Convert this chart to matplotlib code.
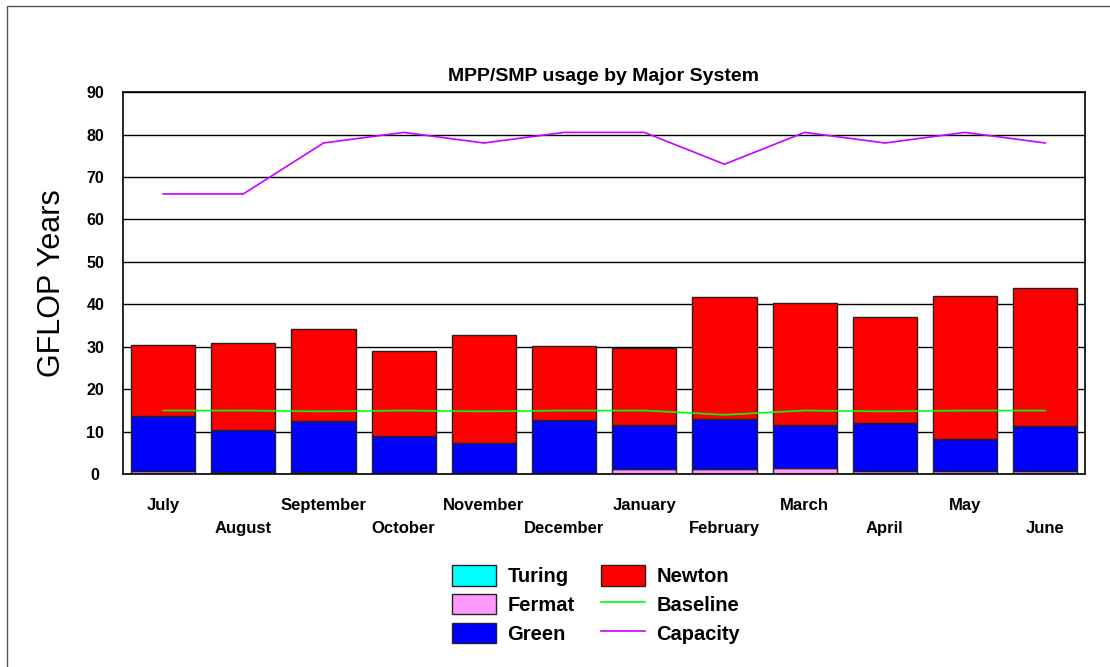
import numpy as np
import matplotlib.pyplot as plt
from matplotlib.patches import Rectangle
from matplotlib.lines import Line2D

plt.rcParams['font.family'] = ['Liberation Sans', 'DejaVu Sans']

# monthly usage, GFLOP years
months = ["July", "August", "September", "October", "November", "December",
          "January", "February", "March", "April", "May", "June"]
turing = [0.1, 0.1, 0.1, 0.1, 0.1, 0.1, 0.1, 0.1, 0.1, 0.1, 0.1, 0.1]
fermat = [0.7, 0.5, 0.4, 0.2, 0.1, 0.1, 1.1, 1.1, 1.4, 0.7, 0.7, 0.7]
green = [13.0, 9.8, 12.1, 8.8, 7.2, 12.5, 10.5, 11.9, 10.2, 11.2, 7.5, 10.5]
newton = [16.7, 20.4, 21.6, 19.9, 25.4, 17.6, 18.1, 28.6, 28.6, 25.1, 33.7, 32.6]
baseline = [15.0, 15.0, 14.8, 15.0, 14.8, 15.0, 15.0, 14.0, 15.0, 14.8, 15.0, 15.0]
capacity = [66.0, 66.0, 78.0, 80.5, 78.0, 80.5, 80.5, 73.0, 80.5, 78.0, 80.5, 78.0]

C_TURING = "#00ffff"
C_FERMAT = "#ff99ff"
C_GREEN = "#0000ff"
C_NEWTON = "#ff0000"
C_BASE = "#00ff00"
C_CAP = "#cc00ff"

fig = plt.figure(figsize=(11.1, 6.67), dpi=100)
ax = fig.add_axes([0.1108, 0.289, 0.8670, 0.573])

# outer frame (only top/left edges fall inside the canvas)
fig.patches.append(Rectangle((7 / 1110, -0.1), 1.2, 1.1 - 6 / 667,
                             transform=fig.transFigure, fill=False,
                             edgecolor="#555555", linewidth=1.0))

x = np.arange(len(months))
w = 0.8
ec = dict(edgecolor="#222222", linewidth=1.0)
b0 = np.zeros(len(months))
ax.bar(x, turing, w, bottom=b0, color=C_TURING, **ec, zorder=2)
b1 = b0 + np.array(turing)
ax.bar(x, fermat, w, bottom=b1, color=C_FERMAT, **ec, zorder=2)
b2 = b1 + np.array(fermat)
ax.bar(x, green, w, bottom=b2, color=C_GREEN, **ec, zorder=2)
b3 = b2 + np.array(green)
ax.bar(x, newton, w, bottom=b3, color=C_NEWTON, **ec, zorder=2)

ax.plot(x, baseline, color=C_BASE, linewidth=1.2, zorder=3)
ax.plot(x, capacity, color=C_CAP, linewidth=1.2, zorder=3)

ax.set_xlim(-0.5, len(months) - 0.5)
ax.set_ylim(0, 90)
ax.set_yticks(np.arange(0, 91, 10))
ax.yaxis.grid(True, color="black", linewidth=1.0, zorder=0)
ax.set_axisbelow(True)
for s in ax.spines.values():
    s.set_linewidth(1.2)
ax.tick_params(axis="y", direction="in", length=0, pad=20, labelsize=11.5)
for t in ax.get_yticklabels():
    t.set_fontweight("bold")
    t.set_horizontalalignment("center")

# staggered month labels
ax.set_xticks(x)
ax.set_xticklabels([])
ax.tick_params(axis="x", length=0)
for i, m in enumerate(months):
    yoff = -0.083 if i % 2 == 0 else -0.141
    ax.text(i, yoff, m, transform=ax.get_xaxis_transform(), ha="center",
            va="center", fontsize=12, fontweight="bold")

ax.set_ylabel("GFLOP Years", fontsize=22, labelpad=14)
fig.text(0.544, 0.885, "MPP/SMP usage by Major System", ha="center",
         va="center", fontsize=14, fontweight="bold")

handles = [
    Rectangle((0, 0), 1, 1, facecolor=C_TURING, **ec),
    Rectangle((0, 0), 1, 1, facecolor=C_FERMAT, **ec),
    Rectangle((0, 0), 1, 1, facecolor=C_GREEN, **ec),
    Rectangle((0, 0), 1, 1, facecolor=C_NEWTON, **ec),
    Line2D([], [], color=C_BASE, linewidth=1.2),
    Line2D([], [], color=C_CAP, linewidth=1.2),
]
labels = ["Turing", "Fermat", "Green", "Newton", "Baseline", "Capacity"]
fig.legend(handles, labels, ncol=2, loc="center", bbox_to_anchor=(0.537, 0.094),
           frameon=False, prop=dict(size=14.5, weight="bold"),
           handlelength=2.2, handleheight=1.2, labelspacing=0.38,
           columnspacing=1.3, handletextpad=0.55)

fig.savefig("out.png", dpi=100)
